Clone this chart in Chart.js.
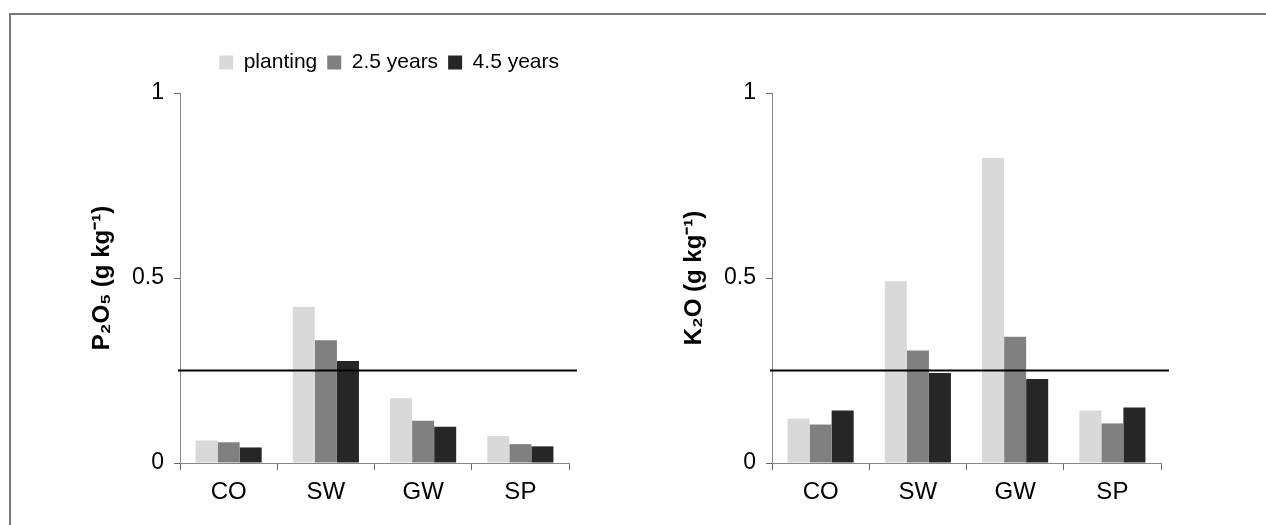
<!DOCTYPE html>
<html>
<head>
<meta charset="utf-8">
<script src="https://cdn.jsdelivr.net/npm/chart.js@4"></script>
<style>
  html, body { margin: 0; padding: 0; background: #fff; }
  body { width: 1266px; height: 525px; position: relative; overflow: hidden; }
  #frame { position: absolute; left: 9px; top: 13px; width: 1300px; height: 600px; border: 2px solid #777; }
  .panel { position: absolute; top: 0; width: 633px; height: 525px; }
</style>
</head>
<body>
<div id="frame"></div>
<div class="panel" style="left:0px"><canvas id="chartP" width="633" height="525"></canvas></div>
<div class="panel" style="left:592px"><canvas id="chartK" width="633" height="525"></canvas></div>
<script>
// categorias y series
const categories = ['CO', 'SW', 'GW', 'SP'];
const seriesLabels = ['planting', '2.5 years', '4.5 years'];
const seriesColors = ['#d9d9d9', '#808080', '#262626'];

// P2O5 (g kg-1)
const p2o5Planting = [0.061, 0.422, 0.175, 0.073];
const p2o5Year25 = [0.056, 0.332, 0.114, 0.051];
const p2o5Year45 = [0.042, 0.276, 0.098, 0.045];

// K2O (g kg-1)
const k2oPlanting = [0.120, 0.491, 0.824, 0.142];
const k2oYear25 = [0.104, 0.304, 0.341, 0.107];
const k2oYear45 = [0.142, 0.243, 0.227, 0.150];

// linea de referencia
const threshold = 0.25;
const yMin = 0;
const yMax = 1;
const yStep = 0.5;

const fontFamily = '"Liberation Sans", Arial, sans-serif';
const axisColor = '#868686';

// dibuja la linea horizontal del umbral usando la escala y
const thresholdLine = {
  id: 'thresholdLine',
  afterDatasetsDraw(chart, args, opts) {
    const ctx = chart.ctx;
    const y = chart.scales.y.getPixelForValue(opts.value);
    const { left, right } = chart.chartArea;
    ctx.save();
    ctx.strokeStyle = '#000';
    ctx.lineWidth = 2;
    ctx.beginPath();
    ctx.moveTo(left - 2, y);
    ctx.lineTo(right + 8, y);
    ctx.stroke();
    ctx.restore();
  }
};

function makeConfig(values, title, showLegend) {
  return {
    type: 'bar',
    data: {
      labels: categories,
      datasets: values.map((v, i) => ({
        label: seriesLabels[i],
        data: v,
        backgroundColor: seriesColors[i],
        borderWidth: 0,
        barPercentage: 1,
        categoryPercentage: 0.68
      }))
    },
    options: {
      responsive: false,
      animation: false,
      layout: { padding: { left: 86, right: 64, top: showLegend ? 42 : 93, bottom: 0 } },
      scales: {
        x: {
          grid: { offset: true, drawOnChartArea: false, drawTicks: true, tickLength: 7, color: '#666' },
          border: { color: axisColor, width: 1 },
          ticks: { color: '#000', padding: 8, font: { family: fontFamily, size: 24 } },
          afterFit: (s) => { s.height = 62; }
        },
        y: {
          min: yMin,
          max: yMax,
          grid: { drawOnChartArea: false, drawTicks: true, tickLength: 6, color: '#666' },
          border: { color: axisColor, width: 1 },
          ticks: {
            stepSize: yStep,
            color: '#000',
            padding: 10,
            font: { family: fontFamily, size: 23 },
            callback: (v) => String(v)
          },
          title: {
            display: true,
            text: title,
            color: '#000',
            padding: { top: 2, bottom: 0 },
            font: { family: fontFamily, size: 24, weight: 'bold' }
          },
          afterFit: (s) => { s.width = 94; }
        }
      },
      plugins: {
        legend: {
          display: showLegend,
          align: 'end',
          labels: {
            color: '#000',
            boxWidth: 14,
            boxHeight: 14,
            padding: 10,
            font: { family: fontFamily, size: 21 }
          }
        },
        tooltip: { enabled: false },
        thresholdLine: { value: threshold }
      }
    },
    plugins: [thresholdLine]
  };
}

const chartP = new Chart(document.getElementById('chartP'),
  makeConfig([p2o5Planting, p2o5Year25, p2o5Year45], 'P₂O₅ (g kg⁻¹)', true));
new Chart(document.getElementById('chartK'),
  makeConfig([k2oPlanting, k2oYear25, k2oYear45], 'K₂O (g kg⁻¹)', false));

// deja mas espacio entre la leyenda y el area del grafico
const legendFit = chartP.legend.fit.bind(chartP.legend);
chartP.legend.fit = function () {
  legendFit();
  this.height += 10;
};
chartP.update('none');
</script>
</body>
</html>
